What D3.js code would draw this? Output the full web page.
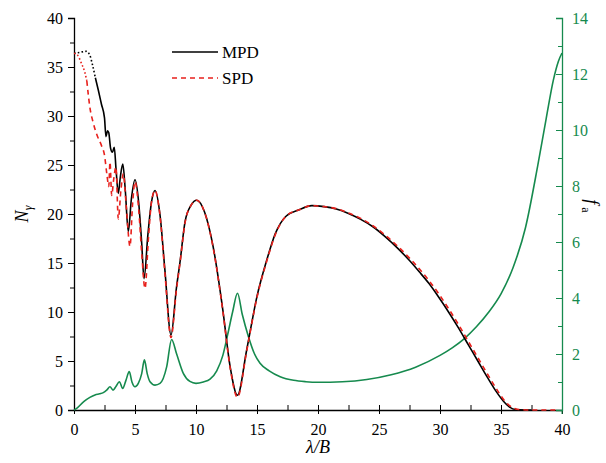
<!DOCTYPE html>
<html>
<head>
<meta charset="utf-8">
<script src="https://cdn.jsdelivr.net/npm/d3@7"></script>
<style>
  body { margin: 0; background: #fff; }
  svg { display: block; font-family: "Liberation Serif", "DejaVu Serif", serif; }
</style>
</head>
<body>
<svg id="chart" width="606" height="463"></svg>
<script>
// lambda/B against N_gamma (left axis) and f_a (right axis)
var mpdDotted = [[0,36.4],[0.5,36.5],[1.0,36.6],[1.3,36.2],[1.5,35.3],[1.75,33.9]]
var mpd = [[1.75,33.9],[2.0,32.6],[2.25,31.2],[2.5,29.8],[2.62,27.9],[2.75,28.5],[2.85,28.3],[3.0,26.7],
  [3.15,26.3],[3.3,26.8],[3.45,24.5],[3.63,22.1],[3.8,23.8],[4.0,25.1],[4.2,22.5],[4.45,18.2],[4.7,21.5],
  [5.0,23.5],[5.3,21.2],[5.55,17.0],[5.74,13.4],[6.05,17.8],[6.35,21.2],[6.64,22.4],[7.05,19.9],[7.45,14.3],
  [7.95,7.65],[8.4,12.5],[8.7,15.2],[9.1,19.2],[9.6,20.9],[10.06,21.4],[10.7,20.2],[11.4,16.7],[12.2,10.2],
  [12.8,4.4],[13.4,1.5],[14.15,6.1],[15.0,11.6],[15.8,15.3],[16.5,18.0],[17.4,19.8],[18.4,20.4],[19.5,20.85],
  [20.5,20.75],[21.5,20.5],[22.5,20.05],[23.5,19.45],[24.5,18.7],[25.5,17.7],[26.5,16.55],[27.5,15.25],
  [28.3,14.1],[29.1,12.9],[29.9,11.5],[30.7,10.0],[31.5,8.4],[32.3,6.7],[33.1,5.0],[33.9,3.3],[34.6,1.9],
  [35.2,0.9],[35.7,0.3],[36.2,0.05],[37.5,0]]

var spdDotted = [[0,36.4],[0.3,36.2],[0.6,35.4],[0.9,34.4],[1.05,33.6]]
var spd = [[1.05,33.6],[1.3,30.9],[1.6,29.2],[1.9,28.0],[2.25,27.0],[2.5,26.0],[2.7,24.0],[2.85,22.8],
  [2.95,25.3],[3.09,21.9],[3.25,23.5],[3.44,24.8],[3.63,19.5],[3.85,22.5],[4.04,24.1],[4.3,20.5],[4.59,16.7],
  [4.8,21.0],[5.0,23.3],[5.3,20.5],[5.55,16.0],[5.82,12.4],[6.1,17.5],[6.35,21.2],[6.64,22.4],[7.05,19.8],
  [7.45,14.0],[7.95,7.4],[8.4,12.3],[8.7,15.1],[9.1,19.1],[9.6,20.9],[10.06,21.4],[10.7,20.2],[11.4,16.6],
  [12.2,10.1],[12.8,4.3],[13.4,1.3],[14.15,6.0],[15.0,11.5],[15.8,15.2],[16.5,17.9],[17.4,19.8],[18.4,20.4],
  [19.5,20.85],[20.5,20.75],[21.5,20.55],[22.5,20.1],[23.5,19.55],[24.5,18.8],[25.5,17.85],[26.5,16.75],
  [27.5,15.5],[28.3,14.4],[29.1,13.2],[29.9,11.85],[30.7,10.35],[31.5,8.75],[32.3,7.05],[33.1,5.35],
  [33.9,3.65],[34.6,2.2],[35.2,1.1],[35.7,0.45],[36.3,0.08],[37.5,0],[39.5,0]]

var fa = [[0,0],[0.22,0.06],[0.8,0.3],[1.3,0.45],[1.72,0.54],[2.1,0.58],[2.4,0.62],[2.7,0.72],[2.95,0.83],
  [3.2,0.71],[3.45,0.85],[3.72,1.01],[3.99,0.77],[4.25,1.05],[4.53,1.37],[4.75,1.0],[5.0,0.83],[5.27,0.95],
  [5.55,1.3],[5.77,1.79],[6.0,1.3],[6.23,1.01],[6.64,0.89],[7.05,0.95],[7.6,1.55],[8.0,2.52],[8.4,2.02],
  [8.96,1.31],[9.5,1.02],[10.0,0.95],[10.6,1.0],[11.15,1.1],[11.7,1.4],[12.2,1.95],[12.6,2.7],[13.0,3.5],
  [13.4,4.17],[13.8,3.4],[14.3,2.62],[14.8,2.0],[15.25,1.67],[16.0,1.4],[16.9,1.19],[18.0,1.06],[19.0,1.01],
  [20.0,0.99],[22.0,1.01],[24.0,1.09],[26.0,1.26],[28.0,1.53],[30.0,1.95],[31.0,2.22],[32.0,2.55],[33.0,2.98],
  [34.0,3.5],[35.0,4.15],[36.0,5.1],[37.0,6.5],[38.0,8.7],[38.7,10.4],[39.3,11.8],[39.7,12.45],[40,12.75]]

var xTicks = [0,5,10,15,20,25,30,35,40]
var yTicks = [0,5,10,15,20,25,30,35,40]
var fTicks = [0,2,4,6,8,10,12,14]
var legendNames = ['MPD', 'SPD']

var green = '#168a4e', red = '#e8201c'
var serif = '"Liberation Serif", "DejaVu Serif", serif'

var svg = d3.select('#chart'),
    margin = {top: 18, right: 44, bottom: 53, left: 74},
    width = +svg.attr('width') - margin.left - margin.right,
    height = +svg.attr('height') - margin.top - margin.bottom,
    g = svg.append('g').attr('transform', 'translate(' + margin.left + ',' + margin.top + ')');

var x = d3.scaleLinear().domain([0, 40]).range([0, width]),
    y = d3.scaleLinear().domain([0, 40]).range([height, 0]),
    yf = d3.scaleLinear().domain([0, 14]).range([height, 0]);

var line = d3.line().curve(d3.curveMonotoneX)
    .x(function(d) { return x(d[0]); })
    .y(function(d) { return y(d[1]); });
var lineF = d3.line().curve(d3.curveMonotoneX)
    .x(function(d) { return x(d[0]); })
    .y(function(d) { return yf(d[1]); });

// x axis: ticks every 2.5 pointing up, labels on multiples of 5
var xAll = d3.range(0, 40.01, 2.5)
g.append('g')
    .attr('transform', 'translate(0,' + height + ')')
    .call(d3.axisBottom(x).tickValues(xAll).tickSize(-5).tickPadding(14).tickSizeOuter(0)
      .tickFormat(function(d) { return xTicks.indexOf(d) >= 0 ? d : ''; }));
g.append('g')
    .attr('transform', 'translate(0,' + height + ')')
    .call(d3.axisBottom(x).tickValues(xTicks).tickSize(4).tickFormat(''))
    .call(function(a) { a.select('.domain').remove(); });

// left axis
var yAll = d3.range(0, 40.01, 2.5)
g.append('g')
    .call(d3.axisLeft(y).tickValues(yAll).tickSizeOuter(0).tickPadding(5)
      .tickSize(6).tickFormat(function(d) { return yTicks.indexOf(d) >= 0 ? d : ''; }))
    .call(function(a) {
      a.selectAll('.tick line').attr('x2', function(d) { return yTicks.indexOf(d) >= 0 ? -6 : -4; });
    });

// right axis, green, ticks inward
var fAll = d3.range(0, 14.01, 1)
var rAxis = g.append('g')
    .attr('transform', 'translate(' + width + ',0)')
    .call(d3.axisRight(yf).tickValues(fAll).tickSizeOuter(0).tickPadding(10)
      .tickSize(-6).tickFormat(function(d) { return fTicks.indexOf(d) >= 0 ? d : ''; }))
    .call(function(a) {
      a.selectAll('.tick line').attr('x2', function(d) { return fTicks.indexOf(d) >= 0 ? -6 : -4; });
    });
rAxis.select('.domain').attr('stroke', green).attr('stroke-width', 1.3);
rAxis.selectAll('.tick line').attr('stroke', green);
rAxis.selectAll('.tick text').attr('fill', green);
rAxis.append('line').attr('y1', height).attr('y2', height + 4).attr('stroke', green);

g.selectAll('.domain').attr('stroke-width', 1.3);
g.selectAll('g').attr('font-family', serif).attr('font-size', 16);
g.selectAll('.tick text').style('font-size', '16px').style('font-family', serif);

// curves
g.append('path').datum(fa).attr('d', lineF)
    .attr('fill', 'none').attr('stroke', green).attr('stroke-width', 1.6);

g.append('path').datum(mpdDotted).attr('d', line)
    .attr('fill', 'none').attr('stroke', '#000').attr('stroke-width', 1.6).attr('stroke-dasharray', '1.6,2.2');
g.append('path').datum(mpd).attr('d', line)
    .attr('fill', 'none').attr('stroke', '#000').attr('stroke-width', 1.6);

g.append('path').datum(spdDotted).attr('d', line)
    .attr('fill', 'none').attr('stroke', red).attr('stroke-width', 1.6).attr('stroke-dasharray', '1.6,2.2');
g.append('path').datum(spd).attr('d', line)
    .attr('fill', 'none').attr('stroke', red).attr('stroke-width', 1.6).attr('stroke-dasharray', '5,4');

// legend
var leg = svg.append('g').attr('transform', 'translate(172,52)');
legendNames.forEach(function(name, i) {
  leg.append('line').attr('x1', 0).attr('x2', 46).attr('y1', i * 26).attr('y2', i * 26)
    .attr('stroke', i === 0 ? '#000' : red).attr('stroke-width', 1.6)
    .attr('stroke-dasharray', i === 0 ? null : '5,4');
  leg.append('text').attr('x', 50).attr('y', i * 26 + 6).style('font-size', '17px').text(name);
});

// axis titles
svg.append('text').attr('transform', 'translate(318,453)').attr('text-anchor', 'middle')
    .style('font-size', '18px').style('font-style', 'italic').text('λ/B');

var yl = svg.append('text').attr('transform', 'translate(28,214) rotate(-90)').attr('text-anchor', 'middle')
    .style('font-size', '18px').style('font-style', 'italic');
yl.append('tspan').text('N');
yl.append('tspan').attr('dy', 4).style('font-size', '12px').text('γ');

var fl = svg.append('text').attr('transform', 'translate(586,206) rotate(90)').attr('text-anchor', 'middle')
    .style('font-size', '18px');
fl.append('tspan').style('font-style', 'italic').text('f');
fl.append('tspan').attr('dy', 4).style('font-size', '12px').text(' a');
</script>
</body>
</html>
